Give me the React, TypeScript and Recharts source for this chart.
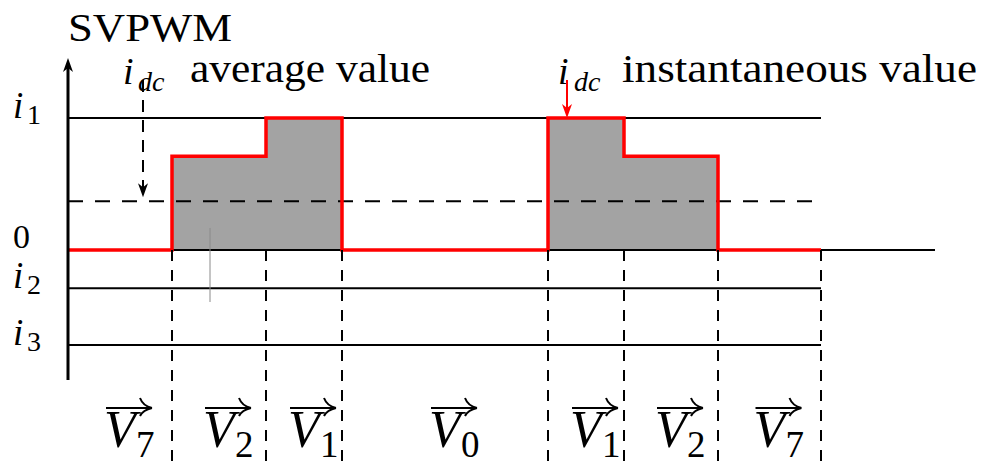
import React from 'react';
import { ComposedChart, XAxis, YAxis, Area, Line, ReferenceLine } from 'recharts';

// Seven-segment SVPWM switching sequence over one period
const vectorLabels = ['7', '2', '1', '0', '1', '2', '7'];
const segmentDurations = [104, 94, 76, 206, 76, 94, 103];
// DC-link current while each vector is applied (per unit of i1)
const dcCurrentLevels = [0, 0.71, 1, 0, 1, 0.71, 0];
const averageCurrent = 0.37;

// Phase current levels marked on the vertical axis
const levelNames = ['i1', '0', 'i2', 'i3'];
const levelValues = [1, 0, -0.29, -0.72];

const timeDomain: [number, number] = [0, 867];
const currentDomain: [number, number] = [-0.985, 1.455];

const FONT = "'Liberation Serif', 'Times New Roman', serif";

// switching instants and segment centres
const boundaries = segmentDurations.reduce<number[]>((acc, d) => [...acc, acc[acc.length - 1] + d], [0]);
const periodEnd = boundaries[boundaries.length - 1];
const midpoints = segmentDurations.map((d, k) => boundaries[k] + d / 2);

const stepData = [
  ...dcCurrentLevels.map((v, k) => ({ t: boundaries[k], i: v })),
  { t: periodEnd, i: dcCurrentLevels[dcCurrentLevels.length - 1] },
];

const hLine = (v: number, end: number) => [
  { t: 0, v },
  { t: end, v },
];

const VectorTick = (props: any) => {
  const { x, y, payload } = props;
  const k = midpoints.indexOf(payload.value);
  const label = vectorLabels[k] ?? '';
  const x0 = x - 16;
  const base = y + 67;
  const ay = y + 28;
  const ax1 = x0 + 48;
  return (
    <g>
      <line x1={x0 + 2} y1={ay} x2={ax1 - 2} y2={ay} stroke="#000" strokeWidth={2} />
      <path
        d={`M${ax1},${ay} Q${ax1 - 9},${ay - 2} ${ax1 - 12},${ay - 10} M${ax1},${ay} Q${ax1 - 9},${ay + 2} ${ax1 - 12},${ay + 8}`}
        stroke="#000"
        strokeWidth={2}
        fill="none"
      />
      <text x={x0} y={base} fontFamily={FONT} fontStyle="italic" fontSize={52} fill="#000">
        V
      </text>
      <text x={x0 + 32} y={base + 10} fontFamily={FONT} fontSize={37} fill="#000">
        {label}
      </text>
    </g>
  );
};

const LevelTick = (props: any) => {
  const { x, y, payload } = props;
  const k = levelValues.indexOf(payload.value);
  const name = levelNames[k] ?? '';
  const lx = x - 55;
  if (name === '0') {
    return (
      <text x={lx} y={y - 2} fontFamily={FONT} fontSize={34} fill="#000">
        0
      </text>
    );
  }
  return (
    <g>
      <text x={lx} y={y} fontFamily={FONT} fontStyle="italic" fontSize={37} fill="#000">
        i
      </text>
      <text x={lx + 14} y={y + 6} fontFamily={FONT} fontSize={28} fill="#000">
        {name.slice(1)}
      </text>
    </g>
  );
};

// vertical arrow with a stealth-style head at (x2, y2)
const arrowShape = (color: string, width: number, dash?: string) => (p: any) => {
  const { x1, y1, x2, y2 } = p;
  const dir = Math.sign(y2 - y1) || 1;
  const len = 14;
  const half = 5;
  return (
    <g>
      <line x1={x1} y1={y1} x2={x2} y2={y2 - dir * 8} stroke={color} strokeWidth={width} strokeDasharray={dash} />
      <path
        d={`M${x2},${y2} L${x2 - half},${y2 - dir * len} L${x2},${y2 - dir * 10} L${x2 + half},${y2 - dir * len} Z`}
        fill={color}
      />
    </g>
  );
};

export default function App() {
  return (
    <div style={{ position: 'absolute', left: 0, top: 0, width: 981, height: 471, background: '#fff' }}>
      <ComposedChart width={981} height={471} margin={{ top: 58, right: 46, bottom: 0, left: 0 }}>
        <XAxis
          type="number"
          dataKey="t"
          domain={timeDomain}
          ticks={midpoints}
          interval={0}
          axisLine={false}
          tickLine={false}
          tickSize={0}
          tickMargin={0}
          height={91}
          tick={<VectorTick />}
          allowDataOverflow
        />
        <YAxis
          type="number"
          domain={currentDomain}
          ticks={levelValues}
          interval={0}
          width={68}
          axisLine={false}
          tickLine={false}
          tickSize={0}
          tickMargin={0}
          tick={<LevelTick />}
          allowDataOverflow
        />

        <Area
          data={stepData}
          dataKey="i"
          type="stepAfter"
          baseValue={0}
          stroke="none"
          fill="#474747"
          fillOpacity={0.5}
          isAnimationActive={false}
        />

        <Line data={hLine(levelValues[0], periodEnd)} dataKey="v" stroke="#000" strokeWidth={2} dot={false} isAnimationActive={false} />
        <Line data={hLine(levelValues[1], timeDomain[1])} dataKey="v" stroke="#000" strokeWidth={2} dot={false} isAnimationActive={false} />
        <Line data={hLine(levelValues[2], periodEnd)} dataKey="v" stroke="#000" strokeWidth={2} dot={false} isAnimationActive={false} />
        <Line data={hLine(levelValues[3], periodEnd)} dataKey="v" stroke="#000" strokeWidth={2} dot={false} isAnimationActive={false} />
        <Line
          data={hLine(averageCurrent, periodEnd)}
          dataKey="v"
          stroke="#000"
          strokeWidth={2}
          strokeDasharray="15 12"
          dot={false}
          isAnimationActive={false}
        />

        <Line
          data={stepData}
          dataKey="i"
          type="stepAfter"
          stroke="#ff0000"
          strokeWidth={3.5}
          dot={false}
          isAnimationActive={false}
        />

        {boundaries.slice(1).map((b) => (
          <ReferenceLine
            key={b}
            segment={[
              { x: b, y: 0 },
              { x: b, y: -1.629 },
            ]}
            ifOverflow="visible"
            stroke="#000"
            strokeWidth={2}
            strokeDasharray="11 9"
          />
        ))}

        <ReferenceLine
          segment={[
            { x: 142, y: 0.167 },
            { x: 142, y: -0.394 },
          ]}
          ifOverflow="visible"
          stroke="#8a8a8a"
          strokeWidth={1}
        />

        {/* vertical axis */}
        <ReferenceLine
          segment={[
            { x: 0, y: currentDomain[0] },
            { x: 0, y: currentDomain[1] },
          ]}
          ifOverflow="visible"
          shape={arrowShape('#000', 3)}
        />
        {/* average value pointer */}
        <ReferenceLine
          segment={[
            { x: 75, y: 1.288 },
            { x: 75, y: averageCurrent + 0.03 },
          ]}
          ifOverflow="visible"
          shape={arrowShape('#000', 2, '12 8')}
        />
        {/* instantaneous value pointer */}
        <ReferenceLine
          segment={[
            { x: 499, y: 1.288 },
            { x: 499, y: levelValues[0] },
          ]}
          ifOverflow="visible"
          shape={arrowShape('#ff0000', 2)}
        />

        <g fontFamily={FONT} fill="#000">
          <text x={68} y={41} fontSize={40} textLength={164} lengthAdjust="spacingAndGlyphs">
            SVPWM
          </text>
          <text x={123} y={84} fontSize={38} fontStyle="italic">
            i
          </text>
          <text x={138} y={91} fontSize={28} fontStyle="italic">
            dc
          </text>
          <text x={190} y={82} fontSize={40} textLength={240} lengthAdjust="spacingAndGlyphs">
            average value
          </text>
          <text x={558} y={84} fontSize={38} fontStyle="italic">
            i
          </text>
          <text x={574} y={91} fontSize={28} fontStyle="italic">
            dc
          </text>
          <text x={622} y={82} fontSize={40} textLength={355} lengthAdjust="spacingAndGlyphs">
            instantaneous value
          </text>
        </g>
      </ComposedChart>
    </div>
  );
}
